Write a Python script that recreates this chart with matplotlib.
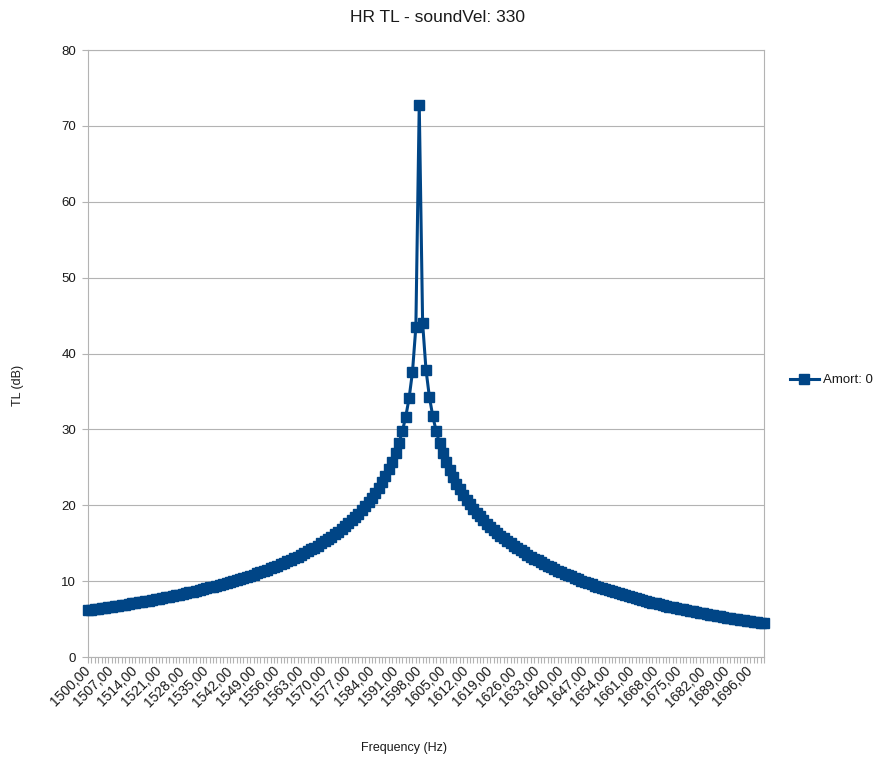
import matplotlib
matplotlib.use("Agg")
import matplotlib.pyplot as plt
from matplotlib.ticker import FixedLocator, NullFormatter

plt.rcParams['font.family'] = ['Liberation Sans', 'DejaVu Sans']

# Frequency categories (Hz) and transmission loss (dB)
freqs = list(range(1500, 1701))
tl_low = [
    6.20, 6.26, 6.32, 6.38, 6.44, 6.51, 6.57, 6.64, 6.70, 6.77,
    6.84, 6.91, 6.98, 7.06, 7.13, 7.21, 7.28, 7.36, 7.44, 7.52,
    7.60, 7.69, 7.77, 7.86, 7.95, 8.04, 8.13, 8.23, 8.32, 8.42,
    8.52, 8.62, 8.72, 8.83, 8.94, 9.05, 9.16, 9.27, 9.39, 9.51,
    9.63, 9.76, 9.88, 10.02, 10.15, 10.28, 10.43, 10.57, 10.72, 10.87,
    11.02, 11.18, 11.34, 11.51, 11.68, 11.86, 12.04, 12.22, 12.41, 12.61,
    12.81, 13.02, 13.24, 13.46, 13.69, 13.93, 14.17, 14.43, 14.69, 14.96,
    15.25, 15.54, 15.85, 16.17, 16.50, 16.85, 17.22, 17.60, 18.01, 18.44,
    18.89, 19.36, 19.87, 20.42, 21.00, 21.62, 22.30, 23.04, 23.83, 24.72,
    25.73, 26.86, 28.18, 29.74, 31.66, 34.12, 37.58, 43.50,
]
tl_peak = [72.80]
tl_high = [
    44.00, 37.86, 34.28, 31.75, 29.79, 28.19, 26.84, 25.68, 24.66, 23.73,
    22.84, 22.08, 21.38, 20.72, 20.12, 19.55, 19.02, 18.52, 18.04, 17.59,
    17.17, 16.76, 16.37, 16.00, 15.64, 15.30, 14.98, 14.66, 14.35, 14.06,
    13.78, 13.50, 13.24, 12.98, 12.73, 12.49, 12.26, 12.03, 11.81, 11.60,
    11.39, 11.18, 10.99, 10.79, 10.61, 10.42, 10.24, 10.07, 9.90, 9.73,
    9.57, 9.41, 9.25, 9.10, 8.96, 8.81, 8.67, 8.53, 8.39, 8.26,
    8.13, 8.00, 7.88, 7.76, 7.64, 7.52, 7.40, 7.29, 7.18, 7.07,
    6.96, 6.86, 6.76, 6.65, 6.56, 6.46, 6.36, 6.27, 6.18, 6.09,
    6.00, 5.91, 5.83, 5.75, 5.66, 5.58, 5.51, 5.43, 5.35, 5.28,
    5.20, 5.13, 5.06, 4.99, 4.92, 4.86, 4.79, 4.72, 4.66, 4.60,
    4.54, 4.48,
]
tl_values = tl_low + tl_peak + tl_high

label_step = 7
y_ticks = [0, 10, 20, 30, 40, 50, 60, 70, 80]

title = "HR TL - soundVel: 330"
x_title = "Frequency (Hz)"
y_title = "TL (dB)"
series_name = "Amort: 0"

W, H = 877, 757
fig = plt.figure(figsize=(W / 100, H / 100), dpi=100)
ax = fig.add_axes([88 / W, 1 - 657 / H, (764 - 88) / W, (657 - 50) / H])

pos = list(range(len(freqs)))
blue = "#004586"
grey = "#b3b3b3"
text_col = "#1a1a1a"

ax.plot(pos, tl_values, color=blue, linewidth=2.2, marker="s",
        markersize=6.5, markerfacecolor=blue, markeredgecolor=blue,
        label=series_name, clip_on=False, zorder=3)

ax.set_xlim(0, len(freqs) - 1)
ax.set_ylim(0, 80)

# category axis: a tick per frequency, labels every 7th
major = pos[::label_step]
ax.xaxis.set_major_locator(FixedLocator(major))
ax.set_xticklabels([f"{freqs[i]},00" for i in major], rotation=45,
                   ha="right", va="center", rotation_mode="anchor",
                   fontsize=10, color=text_col)
ax.xaxis.set_minor_locator(FixedLocator(pos))
ax.xaxis.set_minor_formatter(NullFormatter())
ax.tick_params(axis="x", which="both", direction="out", length=4.5,
               width=0.8, color=grey, pad=4)

ax.set_yticks(y_ticks)
ax.set_yticklabels([str(v) for v in y_ticks], fontsize=9.5, color=text_col)
ax.tick_params(axis="y", direction="out", length=4.5, width=0.8,
               color=grey, pad=4)

ax.grid(axis="y", color=grey, linewidth=0.8)
ax.set_axisbelow(True)
for sp in ax.spines.values():
    sp.set_color(grey)
    sp.set_linewidth(0.8)

fig.text(437 / W, 1 - 18 / H, title, ha="center", va="center",
         fontsize=12.5, color=text_col)
fig.text(404 / W, 1 - 748 / H, x_title, ha="center", va="center",
         fontsize=9, color=text_col)
fig.text(18 / W, 1 - 385 / H, y_title, ha="center", va="center",
         rotation=90, fontsize=9, color=text_col)

leg = ax.legend(loc="center left", bbox_to_anchor=(783 / W, 1 - 380 / H),
                bbox_transform=fig.transFigure, frameon=False, fontsize=9.5,
                borderpad=0, handlelength=2.2, handletextpad=0.3)
for t in leg.get_texts():
    t.set_color(text_col)

fig.savefig("out.png", dpi=100)
